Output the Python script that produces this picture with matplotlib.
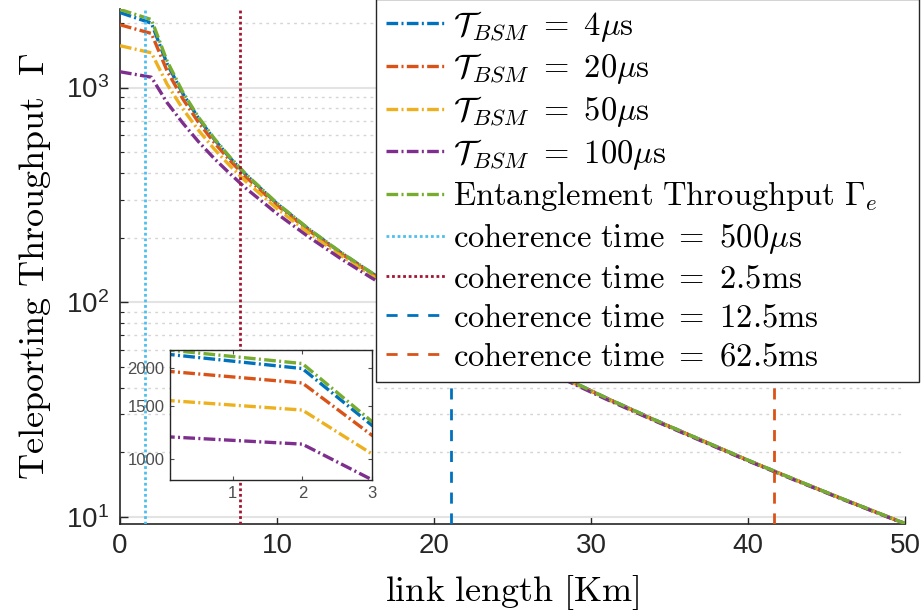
import matplotlib.pyplot as plt
from matplotlib.ticker import LogLocator, NullFormatter, FixedLocator

plt.rcParams['mathtext.fontset'] = 'cm'
plt.rcParams['font.family'] = ['Liberation Sans', 'DejaVu Sans']

# link length [km] and throughput curves
link_km = [0, 2, 3, 4, 5, 6, 7, 8, 10, 12, 14, 16, 18, 20, 22, 25, 28, 31, 34, 37, 40, 43, 46, 50]
gamma_4us = [2235, 1995, 1290, 937, 719, 574, 470, 393.5, 287.7, 219.2, 171.5, 137.1, 111.3, 91.5,
             75.9, 58.3, 45.4, 35.7, 28.4, 22.8, 18.34, 14.88, 12.13, 9.30]
gamma_20us = [1960, 1786, 1195, 885, 688, 554, 457, 384, 282.6, 216.3, 169.7, 135.9, 110.5, 90.9,
              75.6, 58.0, 45.2, 35.6, 28.3, 22.8, 18.3, 14.87, 12.12, 9.29]
gamma_50us = [1566, 1451, 1036, 795, 632, 517, 432, 366, 272.8, 210.5, 166.1, 133.6, 109.0, 89.9,
              74.8, 57.6, 45.0, 35.4, 28.2, 22.7, 18.28, 14.85, 12.10, 9.28]
gamma_100us = [1184, 1117, 850, 683, 559, 467, 397, 340, 258.3, 201.7, 160.6, 130.0, 106.6, 88.3,
               73.7, 56.9, 44.6, 35.2, 28.1, 22.6, 18.21, 14.79, 12.07, 9.26]
gamma_e = [2310, 2073, 1328, 951, 727, 579, 474, 396, 289, 220, 172, 137.4, 111.5, 91.6,
           76.0, 58.3, 45.4, 35.7, 28.4, 22.8, 18.35, 14.88, 12.13, 9.30]

series = [gamma_4us, gamma_20us, gamma_50us, gamma_100us, gamma_e]
series_labels = [r'$\mathcal{T}_{BSM}\ =\ 4\mu\mathrm{s}$',
                 r'$\mathcal{T}_{BSM}\ =\ 20\mu\mathrm{s}$',
                 r'$\mathcal{T}_{BSM}\ =\ 50\mu\mathrm{s}$',
                 r'$\mathcal{T}_{BSM}\ =\ 100\mu\mathrm{s}$',
                 r'$\mathrm{Entanglement\ Throughput}\ \Gamma_e$']
series_colors = ['#0072BD', '#D95319', '#EDB120', '#7E2F8E', '#77AC30']

coherence_km = [1.6, 7.62, 21.1, 41.65]
coherence_labels = [r'$\mathrm{coherence\ time}\ =\ 500\mu\mathrm{s}$',
                    r'$\mathrm{coherence\ time}\ =\ 2.5\mathrm{ms}$',
                    r'$\mathrm{coherence\ time}\ =\ 12.5\mathrm{ms}$',
                    r'$\mathrm{coherence\ time}\ =\ 62.5\mathrm{ms}$']
coherence_colors = ['#4DBEEE', '#A2142F', '#0072BD', '#D95319']
coherence_styles = [(0, (1, 1)), (0, (1, 1)), (0, (4, 3.5)), (0, (4, 3.5))]

dashdot = (0, (3.5, 1, 0.6, 1))

fig = plt.figure(figsize=(9.21, 6.13), dpi=100)
ax = fig.add_axes([0.1303, 0.1452, 0.8523, 0.840])

handles = []
for ys, lab, col in zip(series, series_labels, series_colors):
    h, = ax.plot(link_km, ys, color=col, lw=2.4, linestyle=dashdot, label=lab, zorder=3)
    handles.append(h)
for xv, lab, col, ls in zip(coherence_km, coherence_labels, coherence_colors, coherence_styles):
    h = ax.axvline(xv, color=col, lw=2.0, linestyle=ls, label=lab, zorder=4)
    handles.append(h)

ax.set_yscale('log')
ax.set_xlim(0, 50)
ax.set_ylim(9.25, 2320)
ax.set_xticks([0, 10, 20, 30, 40, 50])
ax.yaxis.set_minor_locator(LogLocator(base=10, subs=range(2, 10)))
ax.yaxis.set_minor_formatter(NullFormatter())
ax.tick_params(which='both', direction='in', labelsize=20, colors='#262626')
ax.tick_params(which='major', length=6, width=1)
ax.tick_params(which='minor', length=3, width=0.8)
ax.tick_params(axis='y', which='major', pad=8)
ax.tick_params(axis='x', which='major', pad=6.5)
ax.grid(True, which='major', axis='y', color='#e3e3e3', lw=1.5, linestyle='-')
ax.grid(True, which='minor', axis='y', color='#d5d5d5', lw=1.0, linestyle=(0, (2, 3)))
ax.set_axisbelow(True)
for s in ['top', 'right']:
    ax.spines[s].set_visible(False)
for s in ['left', 'bottom']:
    ax.spines[s].set_color('#262626')
    ax.spines[s].set_linewidth(1.2)

ax.set_xlabel(r'$\mathrm{link\ length\ [Km]}$', fontsize=26, labelpad=10)
ax.set_ylabel(r'$\mathrm{Teleporting\ Throughput}\ \ \Gamma$', fontsize=26, labelpad=9)

leg = fig.legend(handles=handles, loc='upper left',
                 bbox_to_anchor=(376 / 921, 1 - 5 / 613, 543 / 921, 0.01), mode='expand',
                 fontsize=23.5, handlelength=1.85, handletextpad=0.2, labelspacing=0.235,
                 borderpad=0.3, borderaxespad=0, frameon=True, fancybox=False, framealpha=1)
leg.get_frame().set_edgecolor('#262626')
leg.get_frame().set_linewidth(1.0)

# inset zoom on the first 3 km
axin = fig.add_axes([0.1846, 0.2169, 0.2193, 0.2121])
for ys, col in zip(series, series_colors):
    axin.plot(link_km, ys, color=col, lw=2.4, linestyle=dashdot)
axin.set_yscale('log')
axin.set_xlim(0.1, 3)
axin.set_ylim(848, 2300)
axin.xaxis.set_major_locator(FixedLocator([1, 2, 3]))
axin.yaxis.set_major_locator(FixedLocator([1000, 1500, 2000]))
axin.yaxis.set_minor_locator(FixedLocator([]))
axin.set_yticklabels(['1000', '1500', '2000'])
axin.set_xticklabels(['1', '2', '3'])
axin.tick_params(which='both', direction='in', labelsize=12, colors='#4d4d4d',
                 top=True, right=True, length=3, pad=4)
for s in axin.spines.values():
    s.set_color('#262626')
    s.set_linewidth(1.0)
axin.set_zorder(5)
axin.patch.set_facecolor('white')

fig.savefig('out.png', dpi=100)
